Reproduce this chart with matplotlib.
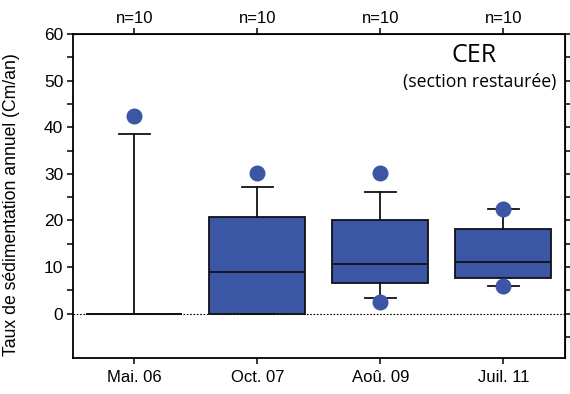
import numpy as np
import matplotlib.pyplot as plt

# Data (Cm/an)
dates = ["Mai. 06", "Oct. 07", "Aoû. 09", "Juil. 11"]
n_counts = [10, 10, 10, 10]
whis_low = [0.0, 0.0, 3.3, 5.85]
q1 = [0.0, 0.0, 6.6, 7.65]
medians = [0.0, 8.85, 10.6, 11.0]
q3 = [0.0, 20.85, 20.0, 18.2]
whis_high = [38.6, 27.2, 26.2, 22.4]
outliers = [[42.5], [30.2], [30.2, 2.5], [22.4, 5.85]]

BOX_COLOR = "#3A56A5"

stats = []
for i, name in enumerate(dates):
    stats.append({
        "label": name,
        "whislo": whis_low[i],
        "q1": q1[i],
        "med": medians[i],
        "q3": q3[i],
        "whishi": whis_high[i],
        "fliers": outliers[i],
    })

plt.rcParams['font.family'] = ['Liberation Sans', 'DejaVu Sans']

fig = plt.figure(figsize=(5.7, 3.94), dpi=100)
ax = fig.add_axes([0.128, 0.0914, 0.863, 0.8223])

positions = np.arange(len(dates))
ax.axhline(0, color="black", linestyle=(0, (1.5, 1.5)), linewidth=0.8, zorder=1)
ax.bxp(stats, positions=positions, widths=0.78, patch_artist=True,
       capwidths=0.25,
       boxprops=dict(facecolor=BOX_COLOR, edgecolor="#111111", linewidth=1.3),
       medianprops=dict(color="#111111", linewidth=1.3),
       whiskerprops=dict(color="#111111", linewidth=1.3),
       capprops=dict(color="#111111", linewidth=1.3),
       flierprops=dict(marker="o", markerfacecolor=BOX_COLOR,
                       markeredgecolor=BOX_COLOR, markersize=10.5),
       zorder=2)

ax.set_xlim(-0.5, 3.5)
ax.set_ylim(-9.5, 60)
ax.set_xticks(positions)
ax.set_xticklabels(dates, fontsize=12)

ax.set_yticks(np.arange(0, 61, 10))
ax.set_yticks(np.arange(5, 60, 10), minor=True)
ax.tick_params(axis="y", which="both", direction="out", length=4, width=1.1,
               labelsize=12.5, pad=3)
ax.tick_params(axis="x", direction="out", length=4, width=1.1, pad=5)
ax.set_ylabel("Taux de sédimentation annuel (Cm/an)", fontsize=12.7)
ax.yaxis.set_label_coords(-0.108, 0.475)

for sp in ax.spines.values():
    sp.set_linewidth(1.3)

# top axis with sample sizes
top = ax.secondary_xaxis("top")
top.set_xticks(positions)
top.set_xticklabels([f"n={n}" for n in n_counts], fontsize=12)
top.tick_params(direction="out", length=4, width=1.1, pad=2)

# right axis ticks every 5
right = ax.secondary_yaxis("right")
right.set_yticks(np.arange(-5, 61, 5))
right.set_yticklabels([])
right.tick_params(direction="out", length=4, width=1.1)

ax.text(0.862, 0.935, "CER", transform=ax.transAxes, ha="right", va="center",
        fontsize=18, family=["Open Sans", "DejaVu Sans"])
ax.text(0.982, 0.852, "(section restaurée)", transform=ax.transAxes, ha="right",
        va="center", fontsize=12.7, family=["Open Sans", "DejaVu Sans"])

fig.savefig("out.png", dpi=100)
